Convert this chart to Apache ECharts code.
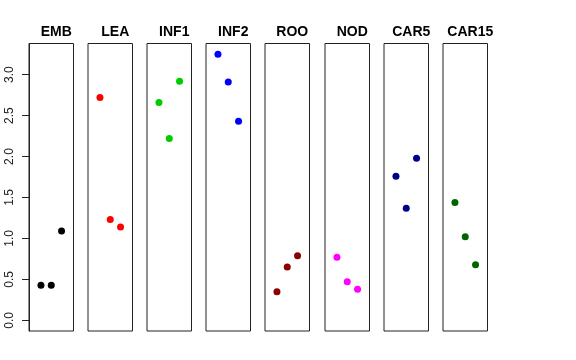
<!DOCTYPE html>
<html>
<head>
<meta charset="utf-8">
<script src="https://cdn.jsdelivr.net/npm/echarts@6/dist/echarts.min.js"></script>
<style>html,body{margin:0;padding:0;background:#fff;}#c{width:576px;height:360px;}</style>
</head>
<body>
<div id="c"></div>
<script>
const categories = ["EMB", "LEA", "INF1", "INF2", "ROO", "NOD", "CAR5", "CAR15"];
const xPositions = [1, 2, 3];
const EMB = [0.43, 0.43, 1.09];
const LEA = [2.72, 1.23, 1.14];
const INF1 = [2.66, 2.22, 2.92];
const INF2 = [3.25, 2.91, 2.43];
const ROO = [0.35, 0.65, 0.79];
const NOD = [0.77, 0.47, 0.38];
const CAR5 = [1.76, 1.37, 1.98];
const CAR15 = [1.44, 1.02, 0.68];
const seriesValues = [EMB, LEA, INF1, INF2, ROO, NOD, CAR5, CAR15];
const colors = ["#000000", "#FF0000", "#00CD00", "#0000FF", "#8B0000", "#FF00FF", "#00008B", "#006400"];
const yTickLabels = [0, 0.5, 1, 1.5, 2, 2.5, 3];

(function () {
const chart = echarts.init(document.getElementById('c'), null, {renderer: 'canvas'});
const grids = [], xAxes = [], yAxes = [], series = [], titles = [];
const left0 = 28.5, step = 59.2, w = 44.5, gTop = 43.5, gBottom = 29;
categories.forEach((cat, i) => {
  const l = Math.round(left0 + i * step);
  grids.push({left: l, top: gTop, width: w, bottom: gBottom, show: true, borderColor: '#222', borderWidth: 1, backgroundColor: 'transparent'});
  xAxes.push({gridIndex: i, type: 'value', min: -0.16, max: 4.16, show: false});
  yAxes.push({
    gridIndex: i, type: 'value', min: -0.13, max: 3.38, show: i === 0,
    splitLine: {show: false},
    axisLine: {show: i === 0, onZero: false, lineStyle: {color: '#222', width: 1}},
    axisTick: {show: i === 0, length: 7, lineStyle: {color: '#222'}, customValues: yTickLabels},
    axisLabel: {show: i === 0, rotate: 90, margin: 13, fontFamily: 'Liberation Sans, Arial, sans-serif', fontSize: 12, color: '#222',
      customValues: yTickLabels, formatter: v => Number(v).toFixed(1)}
  });
  series.push({
    type: 'scatter', xAxisIndex: i, yAxisIndex: i,
    data: xPositions.map((x, k) => [x, seriesValues[i][k]]),
    symbol: 'circle', symbolSize: 7, itemStyle: {color: colors[i], opacity: 1}, silent: true
  });
  titles.push({text: cat, left: l + w / 2, top: 20, textAlign: 'center',
    textStyle: {fontFamily: 'Liberation Sans, Arial, sans-serif', fontSize: 14, fontWeight: 'bold', color: '#000'}});
});
chart.setOption({animation: false, title: titles, grid: grids, xAxis: xAxes, yAxis: yAxes, series: series});
})();
</script>
</body>
</html>
